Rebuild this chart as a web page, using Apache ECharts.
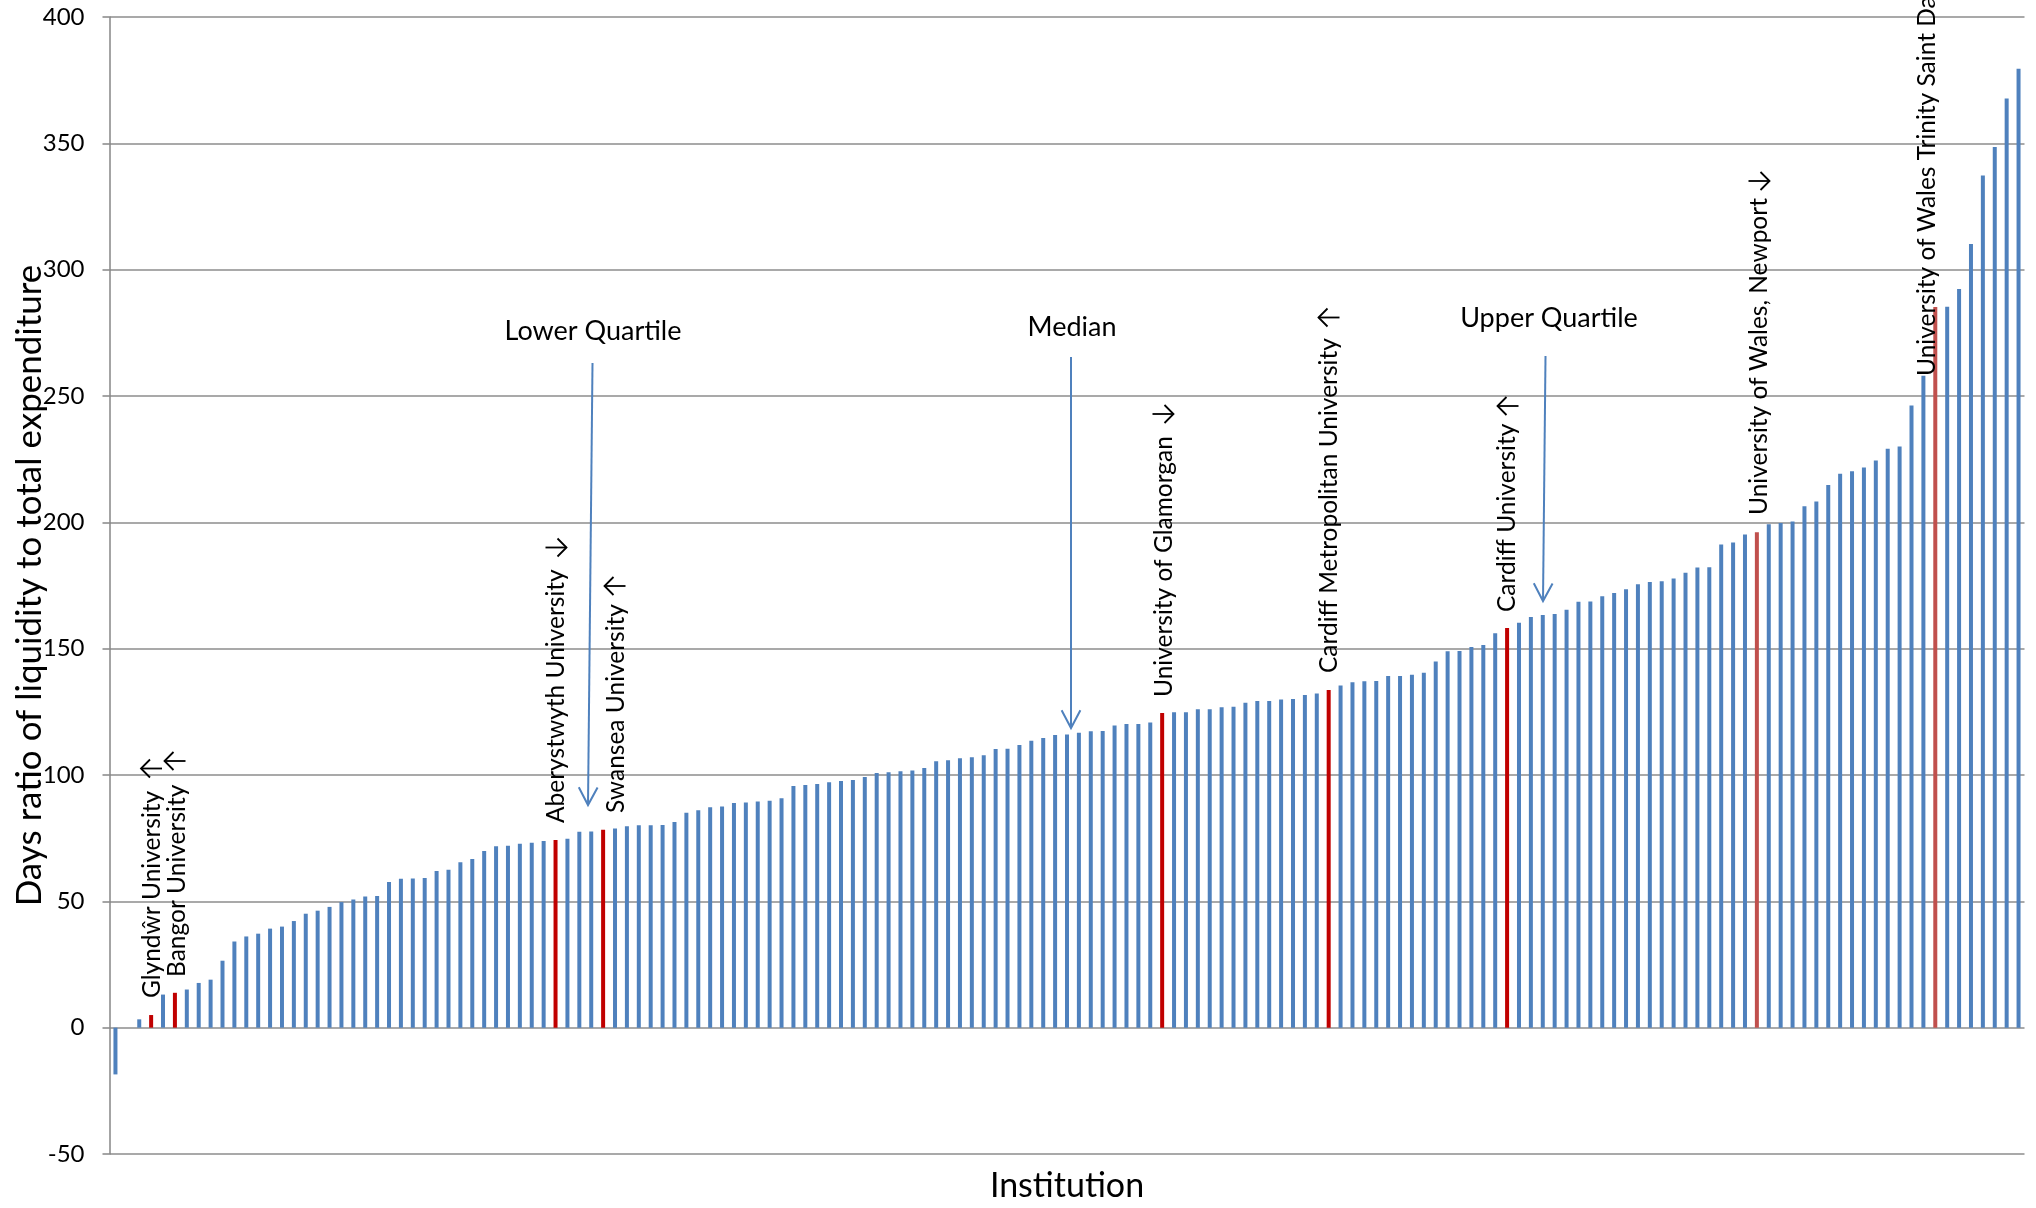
<!DOCTYPE html>
<html>
<head>
<meta charset="utf-8">
<script src="https://cdn.jsdelivr.net/npm/echarts@6/dist/echarts.min.js"></script>
<style>
html,body{margin:0;padding:0;background:#fff;}
#chart{width:2036px;height:1208px;}
</style>
</head>
<body>
<div id="chart"></div>
<script>
// ---- data ----
const values = [
 -18.5, 0, 3.3, 5.0, 13.1, 13.8, 15.1, 17.7, 19.0, 26.5,
 34.1, 36.1, 37.2, 39.2, 40.0, 42.2, 45.1, 46.3, 47.8, 49.7,
 50.7, 51.9, 52.1, 57.7, 58.9, 59.0, 59.2, 62.0, 62.5, 65.5,
 66.8, 69.9, 71.8, 72.0, 72.8, 73.2, 73.9, 74.3, 74.8, 77.5,
 77.6, 78.3, 78.8, 79.7, 80.1, 80.1, 80.2, 81.4, 85.1, 86.0,
 87.2, 87.5, 88.9, 89.1, 89.5, 89.8, 90.8, 95.6, 96.0, 96.4,
 97.1, 97.6, 98.0, 99.2, 100.8, 101.1, 101.5, 101.8, 102.8, 105.4,
 105.8, 106.6, 107.0, 107.8, 110.3, 110.4, 111.9, 113.6, 114.6, 115.8,
 116.0, 116.7, 117.3, 117.4, 119.6, 120.2, 120.2, 120.8, 124.5, 124.8,
 124.8, 126.0, 126.0, 126.8, 127.0, 128.6, 129.3, 129.3, 129.9, 130.1,
 131.7, 132.3, 133.6, 135.4, 136.7, 137.1, 137.2, 139.2, 139.2, 139.7,
 140.5, 144.9, 149.0, 149.1, 150.7, 151.5, 156.1, 158.2, 160.3, 162.5,
 163.3, 163.7, 165.4, 168.6, 168.7, 170.7, 172.0, 173.5, 175.5, 176.4,
 176.7, 177.8, 180.0, 182.1, 182.2, 191.2, 192.0, 195.2, 196.1, 199.2,
 199.7, 200.3, 206.4, 208.2, 214.8, 219.2, 220.2, 221.7, 224.5, 229.1,
 230.0, 246.2, 258.0, 285.2, 285.3, 292.3, 310.2, 337.3, 348.5, 367.7,
 379.5
];
const categories = values.map((v, i) => 'Institution ' + (i + 1));

// Welsh institutions highlighted (index in the sorted list)
const welshIdx   = [3, 5, 37, 41, 88, 102, 117, 138, 153];
const welshNames = ['Glyndŵr University', 'Bangor University', 'Aberystwyth University',
  'Swansea University', 'University of Glamorgan', 'Cardiff Metropolitan University',
  'Cardiff University', 'University of Wales, Newport', 'University of Wales Trinity Saint David'];
const welshColor = ['#C00000', '#C00000', '#C00000', '#C00000', '#C00000', '#C00000', '#C00000', '#C0504D', '#C0504D'];
// label placement (pixels): centre x of text column, bottom y of text
const labelX = [152, 177, 556, 616, 1164, 1329, 1507, 1759, 1927];
const labelY = [998, 977, 823, 813, 697, 673, 612, 515, 376];
// small pointer arrows drawn after each label (pixels), direction on screen
const arrowX   = [151.5, 175, 556, 615, 1163, 1329, 1508, 1759];
const arrowY   = [768.5, 761, 547.5, 586, 414, 317.5, 406, 181];
const arrowDir = [-1, -1, 1, -1, 1, -1, -1, 1];   // -1 = left, 1 = right

const yTicks = [-50, 0, 50, 100, 150, 200, 250, 300, 350, 400];

const quartiles = [
  {text: 'Lower Quartile', tx: 593, ty: 331, x1: 592.5, y1: 363, x2: 588, y2: 805},
  {text: 'Median',         tx: 1072, ty: 327, x1: 1071, y1: 357, x2: 1071, y2: 728},
  {text: 'Upper Quartile', tx: 1549, ty: 318, x1: 1545.5, y1: 356, x2: 1543, y2: 601}
];

// ---- build ----
const seriesData = values.map((v, i) => {
  const k = welshIdx.indexOf(i);
  return k >= 0 ? {value: v, itemStyle: {color: welshColor[k]}} : v;
});

const FONT = 'Lato, "Open Sans", "Liberation Sans", sans-serif';
const graphics = [];
welshNames.forEach((n, k) => {
  graphics.push({
    type: 'text', x: labelX[k], y: labelY[k], rotation: Math.PI / 2, z: 100,
    style: {text: n, fill: '#000', font: '24.5px ' + FONT,
      textAlign: 'left', textVerticalAlign: 'middle'}
  });
});
arrowX.forEach((ax, k) => {
  const d = arrowDir[k], ay = arrowY[k], h = 10.5;
  const tip = [ax + d * h, ay];
  graphics.push({type: 'polyline', z: 100, shape: {points: [[ax - d * h, ay], tip]},
    style: {stroke: '#000', lineWidth: 1.8, fill: null}});
  graphics.push({type: 'polyline', z: 100,
    shape: {points: [[tip[0] - d * 9, ay - 9], tip, [tip[0] - d * 9, ay + 9]]},
    style: {stroke: '#000', lineWidth: 1.8, fill: null}});
});
quartiles.forEach(q => {
  graphics.push({type: 'text', x: q.tx, y: q.ty, z: 100,
    style: {text: q.text, fill: '#000', font: '27px ' + FONT, textAlign: 'center', textVerticalAlign: 'middle'}});
  graphics.push({type: 'polyline', z: 100, shape: {points: [[q.x1, q.y1], [q.x2, q.y2]]},
    style: {stroke: '#4F81BD', lineWidth: 2, fill: null}});
  const dx = q.x2 - q.x1, dy = q.y2 - q.y1, L = Math.hypot(dx, dy);
  const ux = dx / L, uy = dy / L, a = 28 * Math.PI / 180, len = 20;
  const p1 = [q.x2 - len * (ux * Math.cos(a) - uy * Math.sin(a)), q.y2 - len * (uy * Math.cos(a) + ux * Math.sin(a))];
  const p2 = [q.x2 - len * (ux * Math.cos(a) + uy * Math.sin(a)), q.y2 - len * (uy * Math.cos(a) - ux * Math.sin(a))];
  graphics.push({type: 'polyline', z: 100, shape: {points: [p1, [q.x2, q.y2], p2]},
    style: {stroke: '#4F81BD', lineWidth: 2, fill: null}});
});

const chart = echarts.init(document.getElementById('chart'), null, {renderer: 'canvas'});
chart.setOption({
  animation: false,
  backgroundColor: '#fff',
  grid: {left: 109.5, right: 11.5, top: 17, bottom: 54, containLabel: false, outerBoundsMode: 'none'},
  xAxis: {
    type: 'category', data: categories, boundaryGap: true,
    axisLine: {show: false, onZero: false}, axisTick: {show: false}, axisLabel: {show: false},
    splitLine: {show: false},
    name: 'Institution', nameLocation: 'middle', nameGap: 15, nameMoveOverlap: false,
    nameTextStyle: {fontFamily: FONT, fontSize: 34, color: '#000'}
  },
  yAxis: {
    type: 'value', min: -50, max: 400, interval: 50,
    axisLine: {show: true, lineStyle: {color: '#868686', width: 1.5}},
    axisTick: {show: true, length: 7, lineStyle: {color: '#868686', width: 1.5}},
    axisLabel: {margin: 25, fontFamily: FONT, fontSize: 24, color: '#000'},
    splitLine: {show: true, lineStyle: {color: '#8c8c8c', width: 1.5}},
    name: 'Days ratio of liquidity to total expenditure', nameLocation: 'middle', nameGap: 62,
    nameMoveOverlap: false,
    nameTextStyle: {fontFamily: FONT, fontSize: 35, color: '#000'}
  },
  series: [{
    type: 'bar', data: seriesData, barWidth: 4,
    itemStyle: {color: '#4F81BD'}
  }],
  graphic: graphics
});
</script>
</body>
</html>
